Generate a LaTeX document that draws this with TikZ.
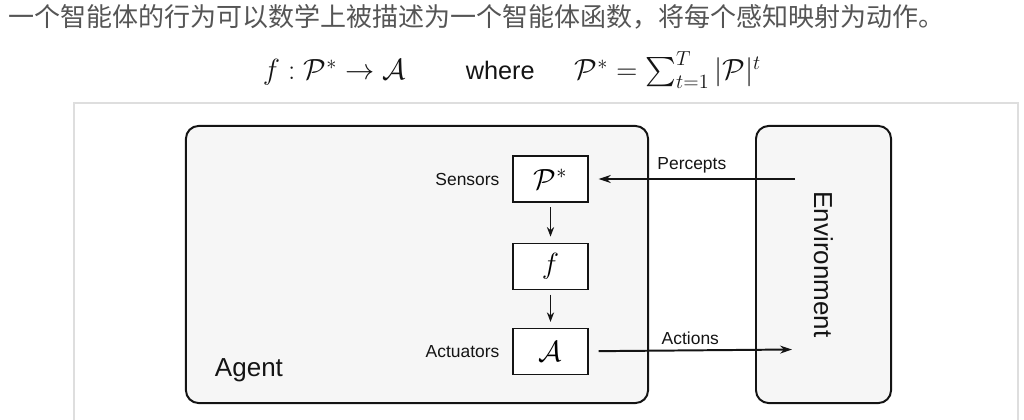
\documentclass[tikz,border=0pt]{standalone}
\usepackage{amsmath}
\usepackage{fontspec}
\setsansfont{Liberation Sans}
\newfontfamily\cjkfont{Noto Sans CJK SC}
\usetikzlibrary{positioning, arrows.meta}
\definecolor{panelgray}{RGB}{246, 246, 246}
\definecolor{framegray}{RGB}{222, 222, 222}
\definecolor{textgray}{RGB}{85, 85, 85}
\definecolor{ink}{RGB}{20, 20, 20}

\begin{document}
\begin{tikzpicture}[x=0.025cm, y=-0.025cm,
      panel/.style={draw=ink, line width=1.4pt, rounded corners=9pt, fill=panelgray},
      slot/.style={draw=ink, line width=0.9pt, fill=white, minimum width=1.875cm,
                   minimum height=1.15cm, inner sep=0pt, font=\fontsize{20}{24}\selectfont},
      lab/.style={font=\sffamily\fontsize{12.4}{14}\selectfont, text=ink},
      big/.style={font=\sffamily\fontsize{18.5}{22}\selectfont, text=ink},
      flow/.style={-{Stealth[length=3mm, width=2mm]}, line width=1.4pt, color=ink},
      down/.style={-{Stealth[length=2.4mm, width=1.8mm]}, line width=1.3pt, color=ink,
                   shorten <=0.12cm, shorten >=0.15cm}]
    \useasboundingbox (0,0) rectangle (1024,420);
    % caption and definition
    \node[anchor=west, inner sep=0pt, text=textgray, font=\cjkfont\fontsize{18.5}{22}\selectfont]
      (caption) at (8,17) {一个智能体的行为可以数学上被描述为一个智能体函数，将每个感知映射为动作。};
    \node[font=\fontsize{20.5}{24}\selectfont, text=ink] (formula) at (512,70)
      {$f:\mathcal{P}^*\rightarrow\mathcal{A}$\hspace{1.5cm}{\sffamily\fontsize{18}{22}\selectfont where}\hspace{1cm}$\mathcal{P}^*=\sum_{t=1}^{T}|\mathcal{P}|^t$};
    % frame
    \draw[framegray, line width=0.8pt] (74,425) -- (74,103) -- (1018,103) -- (1018,425);
    % agent and environment
    \node[panel, minimum width=11.55cm, minimum height=6.925cm] (agent) at (417,264.5) {};
    \node[panel, rotate=-90, minimum width=6.925cm, minimum height=3.375cm, big]
      (env) at (823.5,264.5) {Environment};
    \node[big, anchor=west] (agentlab) at (210,370) {Agent};
    % inner boxes
    \node[slot] (pstar) at (550.5,179) {$\mathcal{P}^*$};
    \node[slot, below=1cm of pstar] (fn) {$f$};
    \node[slot, below=0.95cm of fn] (act) {$\mathcal{A}$};
    \node[lab, left=2mm of pstar] (sens) {Sensors};
    \node[lab, left=2mm of act] (actu) {Actuators};
    \draw[down] (pstar) -- (fn);
    \draw[down] (fn) -- (act);
    % percepts and actions
    \coordinate (pin) at (795,179);
    \coordinate (aout) at (792,349.5);
    \draw[flow, shorten >=0.25cm] (pin) -- node[lab, above] (perc) {Percepts} (pstar);
    \draw[flow, shorten <=0.25cm] (act) -- node[lab, above] (acts) {Actions} (aout);
  \end{tikzpicture}
\end{document}
